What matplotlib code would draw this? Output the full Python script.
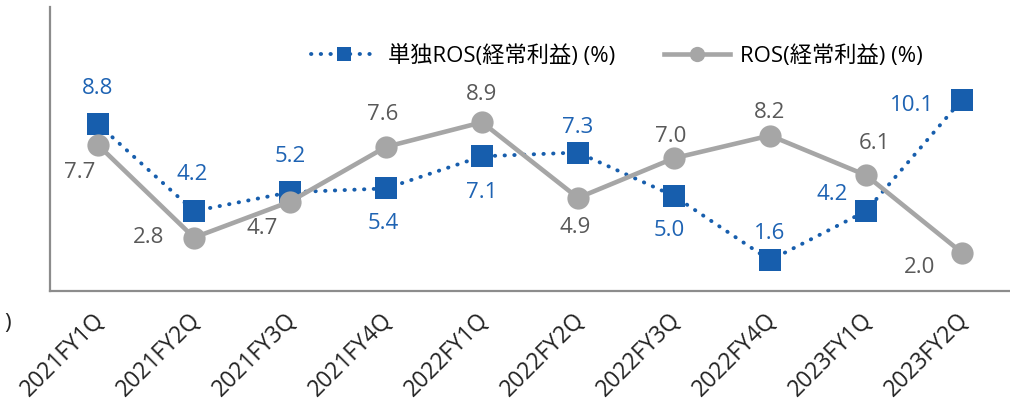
import matplotlib
matplotlib.use("Agg")
import matplotlib.pyplot as plt
import matplotlib.transforms as mtransforms
from matplotlib.lines import Line2D

plt.rcParams['font.family'] = ['Open Sans', 'Noto Sans CJK JP', 'DejaVu Sans']

# データ
quarters = ['2021FY1Q', '2021FY2Q', '2021FY3Q', '2021FY4Q', '2022FY1Q',
            '2022FY2Q', '2022FY3Q', '2022FY4Q', '2023FY1Q', '2023FY2Q']
ros_single = [8.8, 4.2, 5.2, 5.4, 7.1, 7.3, 5.0, 1.6, 4.2, 10.1]
ros_consol = [7.7, 2.8, 4.7, 7.6, 8.9, 4.9, 7.0, 8.2, 6.1, 2.0]
label_single = '単独ROS(経常利益) (%)'
label_consol = 'ROS(経常利益) (%)'

# ラベル位置 (ピクセルのオフセット)
off_single = [(0, 36), (-2, 37), (0, 36), (-3, -35), (0, -36),
              (0, 25), (-5, -35), (0, 27), (-34, 17), (-50, -6)]
off_consol = [(-18, -28), (-45, 0), (-28, -27), (-3, 32), (0, 28),
              (-3, -30), (-3, 22), (0, 23), (8, 32), (-42, -15)]

blue = '#175EAD'
blue_txt = '#1E63B3'
gray = '#A6A6A6'
gray_txt = '#595959'

fig = plt.figure(figsize=(10.1, 4.04), dpi=100)
ax = fig.add_axes([50 / 1010, 1 - 290.5 / 404, 960 / 1010, 283.5 / 404])

x = list(range(len(quarters)))
ax.plot(x, ros_single, color=blue, lw=2.8, linestyle=(0, (0.1, 2.4)),
        dash_capstyle='round', marker='s', markersize=16.5,
        markeredgewidth=0, zorder=2)
ax.plot(x, ros_consol, color=gray, lw=3.3, marker='o', markersize=16,
        markeredgewidth=0, zorder=3)

for i, v in enumerate(ros_single):
    ax.annotate(f'{v:.1f}', (i, v), xytext=off_single[i], textcoords='offset pixels',
                ha='center', va='center', fontsize=16, color=blue_txt, zorder=5)
for i, v in enumerate(ros_consol):
    ax.annotate(f'{v:.1f}', (i, v), xytext=off_consol[i], textcoords='offset pixels',
                ha='center', va='center', fontsize=16, color=gray_txt, zorder=5)

ax.set_xlim(-0.5, len(quarters) - 0.5)
ax.set_ylim(0, 15)
ax.set_yticks([])
ax.set_xticks(x)
ax.set_xticklabels(quarters, rotation=45, ha='right', va='top',
                   rotation_mode='anchor', fontsize=16.5, color='#222222')
ax.tick_params(axis='x', length=0, pad=13)
shift = mtransforms.ScaledTranslation(-5 / 100, 0, fig.dpi_scale_trans)
for lbl in ax.get_xticklabels():
    lbl.set_transform(lbl.get_transform() + shift)

for s in ['top', 'right']:
    ax.spines[s].set_visible(False)
for s in ['left', 'bottom']:
    ax.spines[s].set_color('#8C8C8C')
    ax.spines[s].set_linewidth(1.6)

handles = [
    Line2D([], [], color=blue, lw=2.8, linestyle=(0, (0.1, 2.4)),
           dash_capstyle='round', marker='s', markersize=10, markeredgewidth=0),
    Line2D([], [], color=gray, lw=3.3, marker='o', markersize=11,
           markeredgewidth=0),
]
fig.legend(handles, [label_single, label_consol], loc='center',
           bbox_to_anchor=(617 / 1010, 1 - 56 / 404), ncol=2, frameon=False,
           fontsize=16, handlelength=3.0, columnspacing=2.2, handletextpad=0.45)

fig.text(8 / 1010, 1 - 323 / 404, ')', fontsize=16, color='#222222',
         ha='center', va='center')

fig.savefig('out.png', dpi=100)
